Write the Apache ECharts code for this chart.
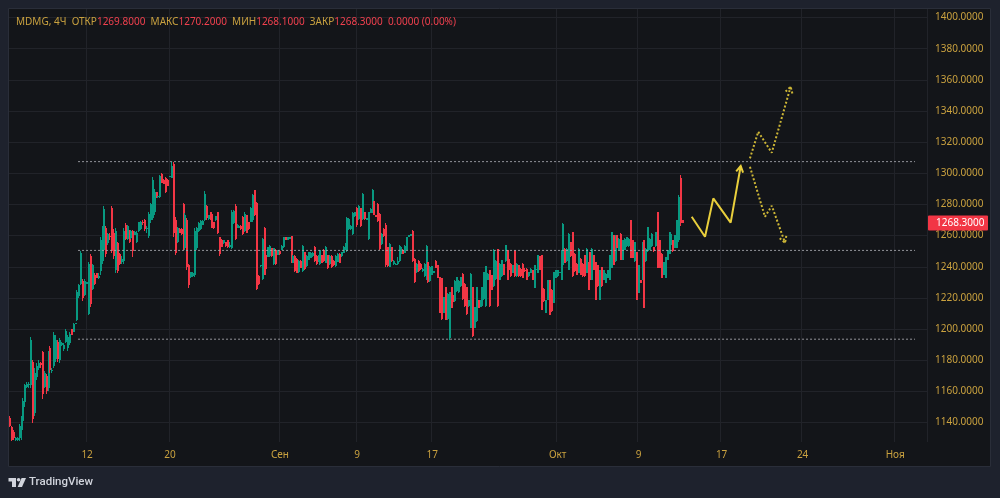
<!DOCTYPE html>
<html><head><meta charset="utf-8">
<script src="https://cdn.jsdelivr.net/npm/echarts@6/dist/echarts.min.js"></script>
<style>html,body{margin:0;padding:0;background:#1e222d;overflow:hidden}#c{width:1000px;height:498px}</style>
</head><body><div id="c"></div>
<script>
// ---------- data ----------
const symbolName = 'MDMG, 4Ч';
const tickLabels = ['12','20','Сен','9','17','Окт','9','17','24','Ноя'];
const tickSlots  = [40, 83, 140, 180, 219, 284, 326, 369, 411, 459];
const slotCount  = 476;
// [open, close, low, high]
const barsAug = [
[1143,1138,1137,1144],[1137,1129,1128,1138],[1134,1130,1129,1135],[1129,1130,1128,1131],[1129,1130,1128,1131],
[1130,1138,1128,1139],[1136,1143,1129,1144],[1141,1154,1135,1156],[1153,1164,1150,1165],[1163,1165,1162,1166],
[1164,1165,1162,1166],[1164,1193,1162,1195],[1179,1142,1140,1180],[1146,1172,1144,1175],[1169,1176,1167,1178],
[1175,1178,1174,1180],[1178,1177,1175,1179],[1185,1158,1155,1186],[1163,1172,1162,1173],[1170,1160,1158,1171],
[1162,1184,1160,1186],[1188,1174,1172,1189],[1173,1174,1172,1175],[1176,1196,1175,1198],[1181,1193,1179,1196],
[1192,1181,1179,1193],[1180,1193,1178,1194],[1190,1191,1189,1192],[1187,1190,1186,1191],[1192,1199,1191,1200],
[1188,1195,1186,1196],[1191,1197,1190,1198],[1200,1196,1196,1200],[1198,1203,1198,1204],[1203,1204,1203,1204],
[1206,1224,1205,1225],[1221,1228,1220,1229],[1229,1249,1228,1250],[1231,1220,1218,1232],[1222,1231,1221,1232],
[1229,1230,1229,1230],[1210,1242,1209,1243],[1247,1216,1214,1248],[1226,1241,1225,1242],[1235,1229,1228,1236],
[1236,1233,1233,1236],[1233,1234,1232,1236],[1237,1257,1235,1259],[1244,1264,1242,1266],[1251,1277,1249,1279],
[1265,1248,1246,1266],[1255,1261,1254,1262],[1260,1259,1257,1262],[1278,1250,1249,1279],[1262,1247,1245,1264],
[1238,1263,1236,1265],[1255,1237,1236,1256],[1248,1242,1241,1249],[1243,1245,1242,1247],[1244,1263,1242,1265],
[1267,1258,1257,1268],[1258,1266,1257,1267],[1263,1256,1255,1263.5],[1258.5,1263,1258,1263.6],[1263,1250,1246.5,1263.6],
[1260.5,1262.5,1260.4,1263],[1256,1262,1255,1263],[1263,1268.5,1262.6,1269],[1264,1269,1263.6,1269.4],[1269,1268,1267,1270],
[1270,1264,1263,1270.5],[1264,1265,1262,1266],[1260,1274,1258.7,1275.4],[1270,1280,1268.3,1281.2],[1271,1296,1270,1297.9],
[1275,1288,1273.3,1289.7],[1288,1285,1284,1288.2],[1284.5,1285.5,1284,1285.6],[1285,1298,1284,1298.9],[1299.5,1294,1293.6,1300],
[1296,1293,1292.9,1296.1],[1297,1288,1287.6,1297.9],[1295.5,1292,1291.9,1296.1],[1297.9,1298.3,1297.8,1298.4],[1297,1305,1296.8,1307.5],
[1306,1262,1259.3,1307.5],[1270,1249,1247.6,1272.2],[1256,1265,1255.5,1265.8],[1264.5,1262,1261.5,1264.7],[1264,1261,1260.5,1264.7],
[1280,1252,1250.8,1280.7],[1252,1273,1250.8,1274.7],[1270,1240,1237.9,1271.1],[1241,1228,1226.6,1241.6],[1233.5,1236.5,1233,1236.9],
[1234,1236,1233.7,1236.9],[1235,1263,1233.7,1264.7],[1252,1265,1250.8,1265.8],[1263,1268,1262.6,1269],[1264,1269.5,1263.6,1270],
[1267,1269.5,1266.8,1270],[1270,1287,1269.5,1288.7],[1279,1271,1270,1279.7],[1270.5,1273,1270,1273.3],[1275,1270.5,1270,1275.4],
[1274,1265,1264.7,1274.3],[1269,1265,1264.3,1269],[1270,1272.5,1269.6,1272.6],[1275,1262,1261.1,1275.4],[1259,1248,1246.9,1259.3],
[1257,1253,1252.9,1257.6],[1255,1257,1254.4,1257.2],[1256,1253.5,1252.9,1256.1],[1257,1253,1252.3,1257.2],[1253,1254,1252,1256],
[1252,1275,1251.2,1276.5],[1268,1276,1267.5,1276.5],[1279,1258,1257.2,1280.1],[1265,1267,1264.6,1267.2],[1265,1266.5,1264.6,1266.8],
[1266.5,1264,1263.6,1266.8],[1272,1261,1260.4,1272.8],[1263,1274,1262.5,1274.9],[1273,1262,1261.4,1273.2],[1268.5,1264,1263.6,1268.9],
[1269,1277.5,1268.9,1278.1],[1270,1286,1268.9,1286.5],[1289,1273.5,1272.8,1289.3],[1281,1226,1225.1,1281.8],[1234,1229,1228.3,1234.7],
[1240.5,1241,1240,1241.1],[1232,1258,1231.5,1258.2],[1265,1235,1234.7,1265.7],[1247.5,1238.5,1237.9,1248],[1246.5,1252.5,1246.5,1252.9],
[1247,1253.5,1246.5,1254],[1252,1247,1246.5,1252.2],[1241.5,1252,1241.1,1252.2],[1251,1241.5,1241.1,1251.4],[1247.5,1250.5,1247.5,1250.7]
];
const barsSep = [
[1250,1248,1247.5,1250.1],[1251,1253.5,1250.7,1254],[1252.5,1259,1252.2,1259.3],[1259.3,1257.3,1257.2,1259.3],[1257.3,1259.2,1257.2,1259.3],
[1257.6,1259,1257.6,1259.3],[1259.8,1243,1242.2,1259.9],[1242.5,1247,1242.2,1247.5],[1247,1237.5,1236.8,1247.5],[1245,1236,1235.8,1245.4],
[1236.5,1244,1235.8,1244.3],[1244,1239.5,1239,1244.3],[1237.5,1253.5,1236.8,1254],[1249.5,1238.5,1237.9,1249.7],[1240.5,1247,1240,1247.5],
[1244.5,1249.5,1244.3,1249.7],[1245.5,1249,1245.4,1249.2],[1247,1249,1246.5,1249.2],[1253,1243.5,1243.3,1253.5],[1247,1241.5,1241.1,1247.5],
[1243,1247,1242.8,1247.5],[1241.5,1250.5,1241.1,1250.7],[1247.5,1242.5,1242.2,1247.5],[1251,1243.5,1243.3,1251.4],[1242.5,1253,1242.2,1253.5],
[1247.5,1239,1238.5,1247.5],[1241.5,1247,1241.1,1247.5],[1247,1240,1239.4,1247.5],[1244,1241,1240.7,1244.3],[1240.5,1247,1240,1247.5],
[1243,1248.5,1242.8,1248.6],[1248.5,1242.5,1242.2,1248.6],[1247,1249.5,1246.5,1249.7],[1249,1253,1248.6,1253.5],[1251,1255,1250.7,1255],
[1250,1271.5,1249.7,1272.1],[1264,1270.5,1263.6,1271.1],[1264,1266.5,1263.6,1266.8],[1261,1274.5,1260.4,1275.4],[1272.5,1275,1272.2,1275.4],
[1278,1267,1265.8,1278.6],[1270.5,1279,1270,1279.7],[1277.5,1266,1265.3,1278],[1270.5,1287,1270,1287.6],[1275,1270.5,1270,1275.4],
[1270.3,1271,1270,1271.1],[1258,1275,1257.2,1275.4],[1274.5,1277,1274.3,1277.5],[1274.5,1289,1274.3,1289.7],[1282,1273.5,1273.3,1282.5],
[1273,1272,1272,1273.3],[1280.5,1269.5,1269,1280.7],[1274,1251.5,1250.8,1274.3],[1254.5,1261,1254,1261.4],[1264.5,1259.5,1259.3,1264.7],
[1267,1241,1240,1267.9],[1252.5,1240.5,1240,1252.9],[1240,1254.5,1239.6,1255],[1252.5,1243.5,1243.3,1252.9],[1241.5,1244,1241.1,1244.3],
[1241.3,1242.1,1241.1,1242.2],[1242,1244,1241,1246],[1243.5,1253.5,1243.3,1254],[1248.5,1253,1248.2,1253.5],[1251,1248.5,1248.2,1251.2],
[1249,1253.5,1248.6,1254],[1251,1259,1250.8,1259.3],[1259.3,1260.3,1258.9,1260.4],[1260,1260.8,1259.8,1260.9],[1263,1244,1243.3,1263.6],
[1245,1230,1229.3,1245.4],[1236.5,1242,1235.8,1242.2],[1244,1237,1236.8,1244.3],[1242,1238.5,1237.9,1242.2],[1237,1238.8,1236.8,1239],
[1234,1242,1233.6,1242.2],[1232,1253.5,1231.5,1254],[1243,1230,1229.3,1243.3],[1230.8,1240,1230.4,1240.5],[1235,1240.3,1234.7,1240.5],
[1236,1237.4,1235.8,1237.5],[1244,1239.2,1239,1244.3],[1241,1233,1232.6,1241.1],[1233.5,1210.5,1210.1,1233.6],[1232.5,1206.5,1205.8,1232.6],
[1210.5,1220.5,1210.1,1220.8],[1227,1206,1205.8,1227.2],[1206.5,1222.5,1205.8,1222.9],[1194,1223.5,1193,1224],[1227,1213.5,1213.3,1227.2],
[1221.5,1218,1217.6,1221.9],[1218,1231,1217.6,1231.5],[1224.5,1233.3,1224,1233.6],[1223.5,1231,1222.9,1231.5],[1227.5,1233.4,1227.2,1233.6],
[1235.5,1219,1218.6,1235.8],[1229,1215,1214.4,1229.3],[1227,1209.5,1209,1227.2],[1214.6,1218.4,1214.4,1218.6],[1201,1235.5,1200.5,1235.8],
[1227,1195.5,1195.1,1227.2],[1201,1214,1200.5,1214.4],[1205,1227,1204.7,1227.2],[1218.5,1213.5,1213.3,1218.6],[1214.6,1218.4,1214.4,1218.6],
[1214.7,1227,1214.4,1227.2],[1219,1236.5,1218.6,1236.8],[1215,1240.2,1214.4,1240.5],[1231.7,1235.6,1231.5,1235.8],[1237.7,1214.7,1214.4,1237.9],
[1234.5,1225.3,1225.1,1234.7],[1227.5,1251,1227.2,1251.4],[1232,1244,1231.5,1244.3],[1251.2,1214.7,1214.4,1251.4],[1231.7,1242,1231.5,1242.2],
[1233.8,1244.1,1233.6,1244.3],[1241.6,1234.9,1234.7,1241.8],[1243.5,1253.8,1243.3,1254],[1250.6,1231.7,1231.5,1250.8],[1245.2,1238.1,1237.9,1245.4],
[1242,1233.8,1233.6,1242.2],[1236,1240.9,1235.8,1241.1],[1250.6,1233.8,1233.6,1250.8],[1233.8,1242,1233.6,1242.2],[1241,1233.8,1233.6,1241.1],
[1238.8,1233.8,1233.6,1239],[1242,1232.8,1232.6,1242.2],[1238.2,1237,1236.8,1239],[1238.8,1231.7,1231.5,1239],[1233.8,1236.6,1233.6,1236.8],
[1236,1238.8,1235.8,1239],[1237.7,1231.7,1231.5,1237.9],[1226.3,1241,1226.1,1241.1],[1238,1238.8,1237.9,1239],[1236,1247.3,1235.8,1247.5],
[1246.7,1238.1,1237.9,1246.9],[1247.3,1212.5,1212.3,1247.5],[1225.9,1217.8,1217.6,1226.1],[1210.3,1218.4,1210.1,1218.6],[1218.8,1231.3,1218.6,1231.5],
[1231.3,1209.2,1209,1231.5],[1225.3,1211.4,1211.2,1225.5],[1216.7,1236.6,1216.5,1236.8],[1232.8,1237.7,1232.6,1237.9]
];
const barsOct = [
[1233.8,1237.7,1233.6,1237.9],[1235.9,1236.7,1235.8,1236.8],[1231.7,1250.6,1231.5,1250.8],[1241.3,1267.7,1241.1,1267.9],[1251.6,1242.4,1242.2,1251.8],
[1243.5,1251.6,1243.3,1251.8],[1238,1261.2,1237.9,1261.4],[1256,1246.7,1246.5,1256.1],[1262.3,1233.8,1233.6,1262.5],[1248.4,1237,1236.8,1248.6],
[1242,1234.9,1234.7,1242.2],[1236,1251.6,1235.8,1251.8],[1245.2,1234.9,1234.7,1245.4],[1242,1233.8,1233.6,1242.2],[1247.3,1233.8,1233.6,1247.5],
[1236,1251.6,1235.8,1251.8],[1243.1,1225.3,1225.1,1243.3],[1249.5,1231.7,1231.5,1249.7],[1231.7,1251.6,1231.5,1251.8],[1247.3,1238.1,1237.9,1247.5],
[1243.1,1218.8,1218.6,1243.3],[1240.9,1227.4,1227.2,1241.1],[1218.8,1237.7,1218.6,1237.9],[1239.8,1227.4,1227.2,1240],[1231.7,1237.7,1231.5,1237.9],
[1229.5,1235.6,1229.3,1235.8],[1232.8,1237.7,1232.6,1237.9],[1231.7,1247.3,1231.5,1247.5],[1239.2,1262.3,1239,1262.5],[1260.2,1241.3,1241.1,1260.4],
[1243.5,1260.2,1243.3,1260.4],[1260.2,1252,1251.8,1260.4],[1251,1258.1,1250.8,1258.3],[1261.2,1244.5,1244.3,1261.4],[1244.5,1257,1244.3,1257.2],
[1251,1258.1,1250.8,1258.3],[1253.1,1259.1,1252.9,1259.3],[1253.1,1258.1,1252.9,1258.3],[1269.8,1245.6,1245.4,1270],[1257,1245.6,1245.4,1257.2],
[1243.5,1256,1243.3,1256.1],[1249.5,1218.8,1218.6,1249.7],[1223.1,1241,1222.9,1241.1],[1231.5,1229.5,1229.3,1231.5],[1231.7,1256,1231.5,1256.1],
[1257,1213.5,1213.3,1257.2],[1243.5,1251.6,1243.3,1251.8],[1249.9,1265.5,1249.7,1265.7],[1251,1258.1,1250.8,1258.3],[1253.1,1261.2,1252.9,1261.4],
[1252.7,1249.9,1249.7,1252.9],[1253.1,1262.3,1252.9,1262.5],[1275.2,1239.2,1239,1275.4],[1257,1239.2,1239,1257.2],[1248.4,1232.8,1232.6,1248.6],
[1234.9,1243.1,1234.7,1243.3],[1232.8,1246.3,1232.6,1246.5],[1244.5,1250.6,1244.3,1250.8],[1248.4,1262.3,1248.2,1262.5],[1254.2,1261.2,1254,1261.4],
[1257,1249.9,1249.7,1257.2],[1252,1260.2,1251.8,1260.4],[1252,1269.8,1251.8,1270],[1257,1285,1256,1286],[1297,1268.3,1266,1299],
[1269.8,1268.3,1268.1,1270.2]
];
// horizontal levels (price) and their slot span
const levels = [1307.5, 1250.5, 1193.5];
const levelSpan = [35.3, 469.3];
// projected paths [slot, price]
const pathMain = [[353.5,1272.1],[360.4,1259.3],[364.7,1283.9],[373.7,1268.3],[378.9,1304.7]];
const pathUp   = [[383.7,1309.6],[388,1326.7],[395,1313.2],[404.8,1355.6]];
const pathDown = [[383.7,1304.2],[391.5,1272.1],[395,1279.2],[401.9,1255.4]];
const priceMin = 1127.5, priceMax = 1405.5;

// ---------- chart ----------
const UP = '#089981', DOWN = '#f23645', GOLD = '#c9a13f', RED = '#f0404e';
const GRID = '#212329', YEL = '#e9cf3c', YEL2 = '#cdb636';
const FONT = '"Noto Sans", sans-serif';
const bars = barsAug.concat(barsSep, barsOct);
const last = bars[bars.length - 1], prev = bars[bars.length - 2];
const cats = Array.from({length: slotCount}, (_, i) => String(i));
const labelAt = {};
tickSlots.forEach((s, k) => { labelAt[s] = tickLabels[k]; });

const chart = echarts.init(document.getElementById('c'), null, {renderer: 'canvas'});
const lineSeries = (data, color, type, width) => ({
  type: 'line', xAxisIndex: 1, yAxisIndex: 0, data, symbol: 'none', silent: true, z: 5,
  lineStyle: {color, width, type}, animation: false
});
// pixel-crisp candles drawn through the axes' scales
function renderCandle(params, api) {
  const i = api.value(0), o = api.value(1), c = api.value(2), l = api.value(3), h = api.value(4);
  const po = api.coord([i, o]), pc = api.coord([i, c]), pl = api.coord([i, l]), ph = api.coord([i, h]);
  const color = c >= o ? UP : DOWN;
  const xb = Math.round(po[0] - 1);
  const yT = Math.round(Math.min(po[1], pc[1])), yB = Math.round(Math.max(po[1], pc[1]));
  const wT = Math.round(ph[1]), wB = Math.round(pl[1]);
  return {type: 'group', children: [
    {type: 'rect', shape: {x: xb, y: wT, width: 1, height: Math.max(1, wB - wT)}, style: {fill: color}},
    {type: 'rect', shape: {x: xb, y: yT, width: 2, height: Math.max(1, yB - yT)}, style: {fill: color}}
  ]};
}
const series = [{
  type: 'custom', xAxisIndex: 0, yAxisIndex: 0, silent: true, z: 3,
  data: bars.map((b, i) => [i, b[0], b[1], b[2], b[3]]),
  encode: {x: 0, y: [1, 2, 3, 4]},
  renderItem: renderCandle
}];
levels.forEach(lv => series.push(lineSeries([[levelSpan[0], lv], [levelSpan[1], lv]], 'rgba(170,172,178,0.85)', [2, 2], 1)));
series.push(lineSeries(pathMain, YEL, 'solid', 2));
series.push(lineSeries(pathUp, YEL2, [2, 2], 2));
series.push(lineSeries(pathDown, YEL2, [2, 2], 2));

const f4 = v => v.toFixed(4);
const chg = last[1] - prev[1];
chart.setOption({
  animation: false,
  backgroundColor: 'transparent',
  textStyle: {fontFamily: FONT},
  grid: {left: 9, right: 73, top: 9, bottom: 56},
  xAxis: [{
    type: 'category', data: cats, boundaryGap: true,
    axisLine: {show: false}, axisTick: {show: false},
    axisLabel: {interval: (i) => labelAt[i] !== undefined, formatter: (v, i) => labelAt[i] || '',
      color: GOLD, fontSize: 10, fontFamily: FONT, margin: 8},
    splitLine: {show: true, interval: (i) => labelAt[i] !== undefined, lineStyle: {color: GRID, width: 1}}
  }, {
    type: 'value', min: -0.5, max: slotCount - 0.5, show: false
  }],
  yAxis: [{
    type: 'value', position: 'right', min: priceMin, max: priceMax,
    splitNumber: 14, minInterval: 20, maxInterval: 20,
    axisLine: {show: false}, axisTick: {show: false},
    axisLabel: {color: GOLD, fontSize: 10, fontFamily: FONT, margin: 8, showMinLabel: false, showMaxLabel: false,
      formatter: (v) => (Math.abs(v / 20 - Math.round(v / 20)) < 1e-6 ? f4(v) : '')},
    splitLine: {lineStyle: {color: GRID, width: 1}, showMinLine: false, showMaxLine: false}
  }],
  series
});

// decorations computed from data through the chart scales
function arrowHead(seriesIndex, path, color, dash) {
  const p = chart.convertToPixel({seriesIndex}, path[path.length - 1]);
  const q = chart.convertToPixel({seriesIndex}, path[path.length - 2]);
  const dx = p[0] - q[0], dy = p[1] - q[1], len = Math.hypot(dx, dy);
  const ux = -dx / len, uy = -dy / len, L = 7, a = Math.PI / 6;
  const r = t => [ux * Math.cos(t) - uy * Math.sin(t), ux * Math.sin(t) + uy * Math.cos(t)];
  const r1 = r(a), r2 = r(-a);
  return {type: 'polyline', z: 20, silent: true,
    shape: {points: [[p[0] + r1[0] * L, p[1] + r1[1] * L], p, [p[0] + r2[0] * L, p[1] + r2[1] * L]]},
    style: {stroke: color, lineWidth: 2, fill: null, lineDash: dash}};
}
const nLv = levels.length;
const lastPx = chart.convertToPixel({seriesIndex: 0}, [bars.length - 1, last[1]]);
const graphics = [
  {type: 'rect', z: -100, silent: true, shape: {x: 8.5, y: 8.5, width: 982, height: 458},
    style: {fill: '#131519', stroke: '#2a2e39', lineWidth: 1}},
  arrowHead(1 + nLv, pathMain, YEL, null),
  arrowHead(2 + nLv, pathUp, YEL2, [2, 2]),
  arrowHead(3 + nLv, pathDown, YEL2, [2, 2]),
  {type: 'rect', z: 30, silent: true, shape: {x: 928, y: Math.round(lastPx[1]) - 7.5, width: 60, height: 15, r: 1},
    style: {fill: DOWN}},
  {type: 'text', z: 31, silent: true, style: {x: 936, y: Math.round(lastPx[1]), text: f4(last[1]), fill: '#ffffff',
    font: '10px ' + FONT, textAlign: 'left', textVerticalAlign: 'middle'}},
  {type: 'text', z: 31, silent: true, style: {x: 16, y: 22, textVerticalAlign: 'middle', font: '10px ' + FONT,
    text: '{a|' + symbolName + '  ОТКР}{b|' + f4(last[0]) + '}{a|  МАКС}{b|' + f4(last[3]) + '}{a|  МИН}{b|' + f4(last[2]) +
      '}{a|  ЗАКР}{b|' + f4(last[1]) + '}{b|  ' + f4(chg) + ' (' + (chg / prev[1] * 100).toFixed(2) + '%)}',
    rich: {a: {fill: GOLD, fontSize: 10, fontFamily: FONT}, b: {fill: RED, fontSize: 10, fontFamily: FONT}}}},
  // TradingView logo
  {type: 'rect', silent: true, shape: {x: 8.5, y: 478, width: 7.5, height: 3.5}, style: {fill: '#d1d4dc'}},
  {type: 'rect', silent: true, shape: {x: 12, y: 478, width: 4, height: 9}, style: {fill: '#d1d4dc'}},
  {type: 'circle', silent: true, shape: {cx: 18.6, cy: 479.8, r: 1.8}, style: {fill: '#d1d4dc'}},
  {type: 'polygon', silent: true, shape: {points: [[21.6, 478], [26, 478], [22, 487], [17.6, 487]]}, style: {fill: '#d1d4dc'}},
  {type: 'text', silent: true, style: {x: 29, y: 482.5, text: 'TradingView', fill: '#d1d4dc',
    font: '500 11.5px Roboto, sans-serif', textVerticalAlign: 'middle'}}
];
chart.setOption({graphic: graphics});
</script>
</body></html>
